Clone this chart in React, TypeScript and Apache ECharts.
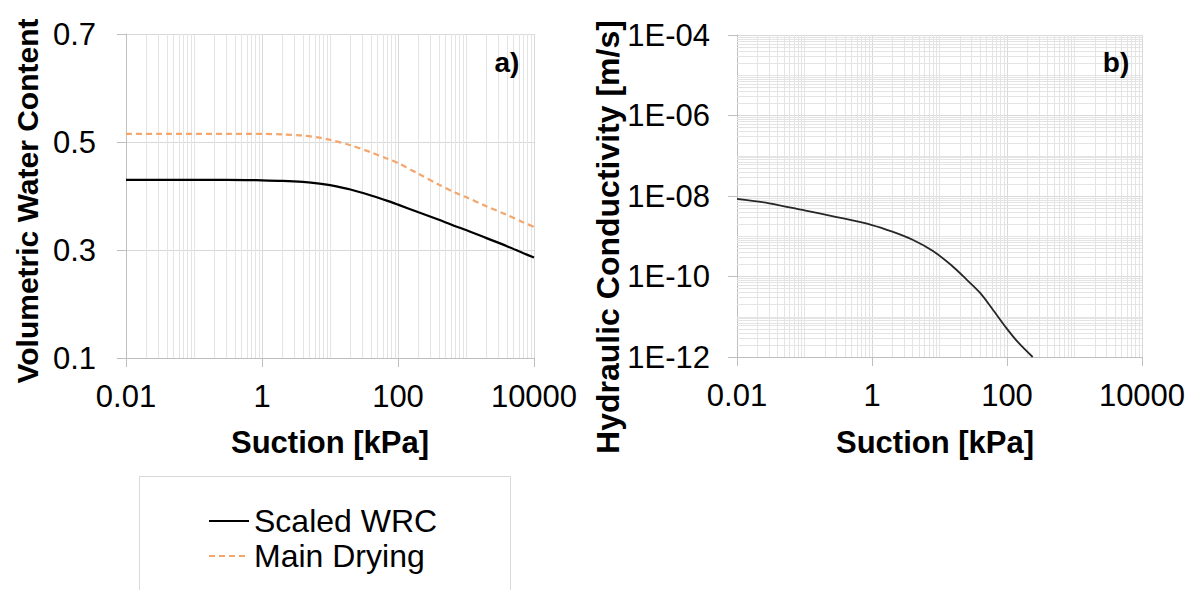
import React, { useEffect, useRef } from "react";
import * as echarts from "echarts";

// ---- data ----
const suction = [0.01, 0.03, 0.1, 0.3, 1, 2, 4, 7, 10, 20, 40, 70, 100, 200, 400, 700, 1000, 2000, 4000, 7000, 10000];
const scaledWRC = [0.43, 0.43, 0.43, 0.43, 0.429, 0.428, 0.426, 0.423, 0.42, 0.412, 0.401, 0.391, 0.384, 0.37, 0.356, 0.344, 0.337, 0.322, 0.307, 0.294, 0.286];
const mainDrying = [0.515, 0.515, 0.515, 0.515, 0.515, 0.514, 0.512, 0.508, 0.504, 0.494, 0.481, 0.469, 0.461, 0.441, 0.421, 0.406, 0.398, 0.381, 0.365, 0.351, 0.343];
const kSuction = [0.01, 0.03, 0.1, 0.3, 1, 2, 4, 8, 15, 25, 40, 60, 100, 150, 240];
const conductivity = [8.5e-9, 6.6e-9, 4.4e-9, 3.0e-9, 1.9e-9, 1.3e-9, 8.2e-10, 4.3e-10, 1.9e-10, 8.5e-11, 3.9e-11, 1.6e-11, 5e-12, 2.2e-12, 1e-12];

const seriesNames = ["Scaled WRC", "Main Drying"];
const suctionRange = [0.01, 10000];
const wcRange = [0.1, 0.7];
const kRange = [1e-12, 1e-4];
const xTitle = "Suction [kPa]";
const yTitleA = "Volumetric Water Content";
const yTitleB = "Hydraulic Conductivity [m/s]";

// minor gridline positions (log decades)
function minorValues(eFrom: number, eTo: number, majorStep: number) {
  const out: number[] = [];
  for (let e = eFrom; e < eTo; e++) {
    for (let k = 1; k <= 9; k++) {
      if (k === 1 && (e - eFrom) % majorStep === 0) continue;
      out.push(Number((k * Math.pow(10, e)).toPrecision(3)));
    }
  }
  return out;
}

const FONT = '"Liberation Sans", Arial, sans-serif';
const GRID_MAJOR = "#d9d9d9";
const GRID_MINOR = "#e4e4e4";
const AXIS = "#bfbfbf";

function fmtSuction(v: number) {
  const e = Math.round(Math.log10(v));
  return e < 0 ? v.toFixed(-e) : String(Math.round(v));
}
function fmtK(v: number) {
  const e = Math.round(Math.log10(v));
  const a = Math.abs(e);
  return "1E" + (e < 0 ? "-" : "+") + (a < 10 ? "0" + a : String(a));
}

export default function App() {
  const ref = useRef<HTMLDivElement>(null);
  useEffect(() => {
    if (!ref.current) return;
    const chart = echarts.init(ref.current, undefined, { renderer: "svg" });

    const xMinor = minorValues(-2, 4, 2);
    const kMinor = minorValues(-12, -4, 2);

    const vLinesA = xMinor.map((v) => [{ coord: [v, wcRange[0]] }, { coord: [v, wcRange[1]] }]);
    const vLinesB = xMinor.map((v) => [{ coord: [v, kRange[0]] }, { coord: [v, kRange[1]] }]);
    const hLinesB = kMinor.map((v) => [{ coord: [suctionRange[0], v] }, { coord: [suctionRange[1], v] }]);

    const axisLabel = (fmt: (v: number) => string, margin: number) => ({
      fontFamily: FONT,
      fontSize: 31,
      color: "#000",
      margin,
      formatter: fmt,
    });

    const gridMark = (data: any[]) => ({
      silent: true,
      symbol: "none",
      z: 1,
      label: { show: false },
      lineStyle: { color: GRID_MINOR, width: 1, type: "solid" },
      emphasis: { disabled: true },
      animation: false,
      data,
    });

    const textEl = (text: string, x: number, y: number, size: number, rot = 0) => ({
      type: "text",
      x,
      y,
      z: 100,
      rotation: rot,
      silent: true,
      style: {
        text,
        fontFamily: FONT,
        fontSize: size,
        fontWeight: "bold",
        fill: "#000",
        align: "center",
        verticalAlign: "middle",
        textAlign: "center",
        textVerticalAlign: "middle",
      },
    });

    const option: any = {
      animation: false,
      grid: [
        { left: 126, top: 34, width: 408, height: 324 },
        { left: 737, top: 35, width: 405, height: 322 },
      ],
      xAxis: [0, 1].map((gi) => ({
        type: "log",
        gridIndex: gi,
        logBase: 10,
        min: suctionRange[0],
        max: suctionRange[1],
        interval: 2,
        axisLine: { show: true, lineStyle: { color: AXIS } },
        axisTick: { show: true, length: 9, lineStyle: { color: AXIS } },
        axisLabel: axisLabel(fmtSuction, 23),
        splitLine: { show: true, lineStyle: { color: GRID_MAJOR } },
      })),
      yAxis: [
        {
          type: "value",
          gridIndex: 0,
          min: wcRange[0],
          max: wcRange[1],
          interval: 0.2,
          axisLine: { show: true, lineStyle: { color: AXIS } },
          axisTick: { show: true, length: 9, lineStyle: { color: AXIS } },
          axisLabel: axisLabel((v: number) => v.toFixed(1), 30),
          splitLine: { show: true, lineStyle: { color: GRID_MAJOR } },
        },
        {
          type: "log",
          gridIndex: 1,
          logBase: 10,
          min: kRange[0],
          max: kRange[1],
          interval: 2,
          axisLine: { show: true, lineStyle: { color: AXIS } },
          axisTick: { show: true, length: 9, lineStyle: { color: AXIS } },
          axisLabel: axisLabel(fmtK, 27),
          splitLine: { show: true, lineStyle: { color: GRID_MAJOR } },
        },
      ],
      legend: {
        data: seriesNames,
        orient: "vertical",
        left: 208,
        top: 505,
        itemGap: 3,
        itemWidth: 40,
        itemHeight: 14,
        padding: 0,
        itemStyle: { opacity: 0 },
        textStyle: { fontFamily: FONT, fontSize: 32, color: "#000" },
      },
      graphic: [
        {
          type: "rect",
          silent: true,
          shape: { x: 139.5, y: 476.5, width: 371, height: 140 },
          style: { fill: "none", stroke: "#d9d9d9", lineWidth: 1 },
        },
        textEl(yTitleA, 27, 201, 30, Math.PI / 2),
        textEl(yTitleB, 608, 237, 32, Math.PI / 2),
        textEl(xTitle, 330, 442, 31),
        textEl(xTitle, 935, 442, 31),
        textEl("a)", 507, 62, 28),
        textEl("b)", 1116, 62, 28),
      ],
      series: [
        {
          name: "gridA",
          type: "line",
          xAxisIndex: 0,
          yAxisIndex: 0,
          data: [],
          silent: true,
          z: 1,
          markLine: gridMark(vLinesA),
        },
        {
          name: "gridB",
          type: "line",
          xAxisIndex: 1,
          yAxisIndex: 1,
          data: [],
          silent: true,
          z: 1,
          markLine: gridMark([...vLinesB, ...hLinesB]),
        },
        {
          name: seriesNames[0],
          type: "line",
          xAxisIndex: 0,
          yAxisIndex: 0,
          data: suction.map((s, i) => [s, scaledWRC[i]]),
          smooth: 0.3,
          symbol: "none",
          showSymbol: false,
          z: 3,
          lineStyle: { color: "#000", width: 2.2 },
          itemStyle: { color: "#000" },
        },
        {
          name: seriesNames[1],
          type: "line",
          xAxisIndex: 0,
          yAxisIndex: 0,
          data: suction.map((s, i) => [s, mainDrying[i]]),
          smooth: 0.3,
          symbol: "none",
          showSymbol: false,
          z: 3,
          lineStyle: { color: "#f4a66c", width: 2.2, type: [6, 4] },
          itemStyle: { color: "#f4a66c" },
        },
        {
          name: "Hydraulic Conductivity",
          type: "line",
          xAxisIndex: 1,
          yAxisIndex: 1,
          data: kSuction.map((s, i) => [s, conductivity[i]]),
          smooth: 0.3,
          symbol: "none",
          showSymbol: false,
          z: 3,
          lineStyle: { color: "#262626", width: 1.8 },
        },
      ],
    };
    chart.setOption(option);
    return () => chart.dispose();
  }, []);
  return (
    <div
      ref={ref}
      style={{ position: "absolute", left: 0, top: 0, width: 1199, height: 590, background: "#fff" }}
    />
  );
}
